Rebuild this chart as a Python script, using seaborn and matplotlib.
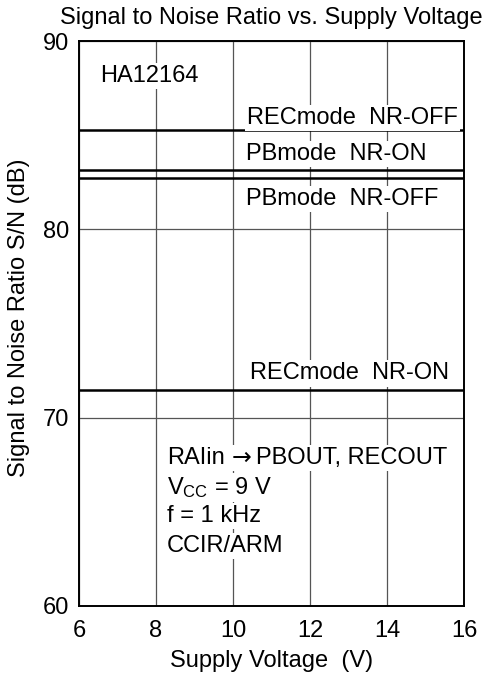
import pandas as pd
import matplotlib
matplotlib.use("Agg")
import matplotlib.pyplot as plt
import seaborn as sns

# supply voltage range (V) and S/N levels (dB) per mode, all flat
voltage = [6, 16]
modes = ["RECmode  NR-OFF", "PBmode  NR-ON", "PBmode  NR-OFF", "RECmode  NR-ON"]
snr = [85.3, 83.15, 82.7, 71.45]
x_ticks = [6, 8, 10, 12, 14, 16]
y_ticks = [60, 70, 80, 90]

rows = []
for m, v in zip(modes, snr):
    for x in voltage:
        rows.append({"mode": m, "V": x, "SN": v})
df = pd.DataFrame(rows)

sns.set_style("white")
plt.rcParams["font.family"] = ["Liberation Sans", "DejaVu Sans"]
plt.rcParams["mathtext.fontset"] = "custom"
plt.rcParams["mathtext.rm"] = "Liberation Sans"
plt.rcParams["mathtext.it"] = "Liberation Sans"
plt.rcParams["text.color"] = "black"
plt.rcParams["axes.labelcolor"] = "black"

fs = 17
fig = plt.figure(figsize=(4.88, 6.84), dpi=100)
ax = fig.add_axes([79 / 488, 1 - 606 / 684, 385 / 488, 565 / 684])

sns.lineplot(data=df, x="V", y="SN", hue="mode", palette=["black"] * 4,
             linewidth=1.8, legend=False, ax=ax, zorder=3)

ax.set_xlim(6, 16)
ax.set_ylim(60, 90)
ax.set_xticks(x_ticks)
ax.set_yticks(y_ticks)
ax.grid(True, color="#555555", linewidth=0.9)
ax.set_axisbelow(True)
for s in ax.spines.values():
    s.set_color("black")
    s.set_linewidth(1.4)
ax.tick_params(axis="x", length=0, pad=10, labelsize=fs, colors="black")
ax.tick_params(axis="y", length=0, pad=7, labelsize=fs, colors="black")

ax.set_xlabel("Supply Voltage  (V)", fontsize=fs, labelpad=6)
ax.set_ylabel("Signal to Noise Ratio S/N (dB)", fontsize=fs)
ax.yaxis.set_label_coords(-0.128, 0.511)
fig.text(271 / 488, 1 - 18 / 684, "Signal to Noise Ratio vs. Supply Voltage",
         ha="center", va="center", fontsize=fs)

box = dict(facecolor="white", edgecolor="none", pad=1.5)
ax.text(6.55, 88.15, "HA12164", fontsize=fs, va="center", ha="left", bbox=box, zorder=4)
label_pos = [(10.36, 85.9), (10.34, 84.0), (10.34, 81.6), (10.44, 72.35)]
for m, (x, y) in zip(modes, label_pos):
    ax.text(x, y, m, fontsize=fs, va="center", ha="left", bbox=box, zorder=4)

# first condition line: source, arrow (DejaVu glyph is wider), destinations
t1 = ax.text(8.29, 67.85, "RAIin", fontsize=fs, va="center", ha="left", bbox=box, zorder=4)
t2 = ax.annotate("\u2192", xy=(1, 0.5), xycoords=t1, xytext=(4.5, 0), textcoords="offset points",
                 fontsize=fs, family="DejaVu Sans", va="center", ha="left",
                 bbox=dict(facecolor="white", edgecolor="none", pad=0.5), zorder=4)
ax.annotate("PBOUT, RECOUT", xy=(1, 0.5), xycoords=t2, xytext=(3.5, 0), textcoords="offset points",
            fontsize=fs, va="center", ha="left", bbox=box, zorder=4)

cond = [r"V$_{\mathrm{CC}}$ = 9 V", "f = 1 kHz", "CCIR/ARM"]
cond_y = [66.3, 64.77, 63.2]
for t, y in zip(cond, cond_y):
    ax.text(8.29, y, t, fontsize=fs, va="center", ha="left", bbox=box, zorder=4)

fig.savefig("out.png", dpi=100)
